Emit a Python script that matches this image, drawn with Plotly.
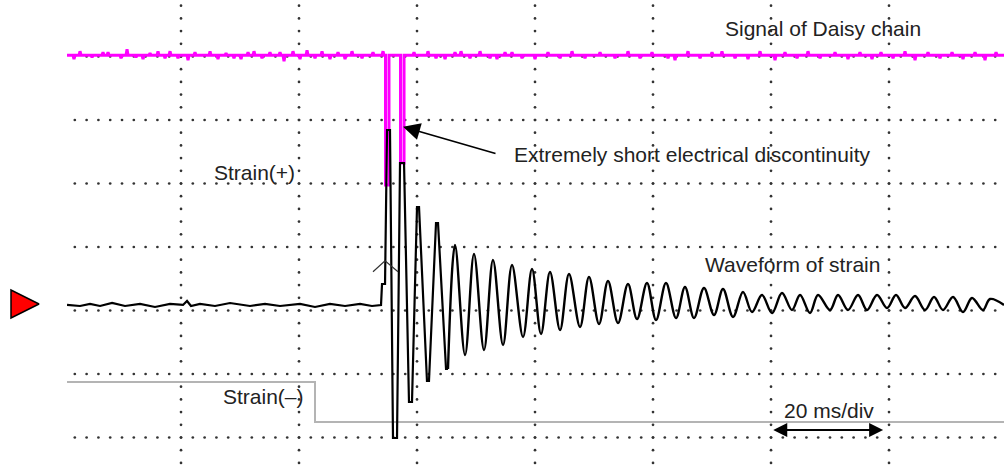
import numpy as np
import plotly.graph_objects as go

# ---------------- data (x in ms, y in divisions) ----------------
# horizontal scale 20 ms/div, grid divisions
grid_x_lines = [20, 40, 60, 80, 100, 120, 140]
grid_y_lines = [-2, -1, 0, 1, 2, 3, 4]

# Strain waveform: pre-trigger baseline
base_t = [0.68, 2.88, 4.58, 6.27, 8.31, 10.51, 13.05, 15.59, 18.14, 20.34, 21.02, 21.69,
          23.22, 25.76, 28.31, 31.69, 34.24, 36.78, 40.17, 42.71, 45.25, 47.80, 50.34,
          52.37, 53.90]
base_v = [0.087, 0.071, 0.103, 0.071, 0.118, 0.071, 0.103, 0.055, 0.103, 0.087, 0.150, 0.071,
          0.103, 0.071, 0.118, 0.071, 0.103, 0.071, 0.103, 0.055, 0.103, 0.071, 0.103,
          0.071, 0.087]
# Strain waveform: first large swings after impact (steep, flat-topped)
burst_t = [54.07, 54.58, 54.92, 55.42, 55.93, 56.61, 57.12, 57.80, 58.64, 59.15, 60.00, 60.34,
           61.69, 62.03, 63.22, 63.56, 64.92, 65.25]
burst_v = [0.417, 0.417, 2.843, 2.843, -2.008, -2.008, 2.323, 2.323, -1.441, -1.441, 1.630, 1.630,
           -1.110, -1.110, 1.378, 1.378, -0.921, -0.921]
# Strain waveform: decaying oscillation (peaks and troughs)
osc_t = [65.25, 66.44, 68.14, 69.66, 71.36, 72.88,
         74.58, 76.10, 77.97, 79.49, 81.02, 82.54, 84.24, 85.76, 87.63, 89.15, 90.85, 92.37,
         94.07, 95.76, 97.29, 98.98, 100.51, 102.20, 103.90, 105.42, 106.95, 108.64, 110.34,
         111.86, 113.56, 115.25, 116.78, 118.47, 120.17, 121.86, 123.56, 124.92, 126.61,
         127.97, 130.00, 131.36, 133.05, 134.75, 136.27, 137.97, 139.66, 141.19, 142.71,
         144.41, 146.10, 147.63, 149.15, 150.85, 152.54, 154.07, 155.93, 157.12, 159.49]
osc_v = [-0.921, 1.031, -0.701, 0.890, -0.622, 0.795,
         -0.543, 0.717, -0.417, 0.654, -0.370, 0.606, -0.307, 0.575, -0.260, 0.528, -0.213, 0.465,
         -0.197, 0.417, -0.134, 0.433, -0.150, 0.433, -0.118, 0.370, -0.118, 0.354, -0.071,
         0.339, -0.102, 0.291, -0.024, 0.244, -0.039, 0.276, 0.008, 0.244, -0.039,
         0.244, 0.008, 0.244, 0.008, 0.244, 0.008, 0.244, 0.039, 0.244, 0.039,
         0.228, 0.008, 0.213, 0.008, 0.213, -0.024, 0.197, 0.008, 0.181, 0.087]

# Strain(-) trace (grey)
neg_t = [0.68, 42.71, 42.71, 159.49]
neg_v = [-1.126, -1.126, -1.756, -1.756]

# Daisy-chain signal (magenta): level, noise spikes, dropouts
daisy_level = 4.02
daisy_start, daisy_end = 0.68, 159.49
spike_t = [1.86, 2.88, 4.92, 6.78, 7.63, 9.83, 10.85, 12.37, 13.56, 14.75, 16.10, 17.29, 18.14,
           19.49, 21.19, 22.37, 24.92, 26.27, 27.63, 28.98, 30.17, 31.36, 32.37, 33.73, 35.08,
           36.78, 37.46, 38.98, 40.17, 41.36, 42.71, 43.90, 45.25, 46.61, 47.80, 48.98, 50.68,
           52.54, 54.24, 59.49, 61.86, 63.22, 64.75, 66.44, 67.46, 68.98, 70.68, 72.37, 73.56,
           74.92, 76.10, 77.80, 80.00, 82.20, 84.24, 86.27, 88.47, 91.02, 93.56, 95.76, 97.80,
           99.83, 102.54, 103.73, 105.93, 107.97, 110.00, 111.69, 113.90, 116.10, 118.14,
           120.68, 122.37, 124.41, 126.27, 128.31, 130.85, 133.05, 135.08, 137.12, 138.64,
           140.68, 142.71, 144.41, 146.61, 148.64, 150.68, 152.54, 154.58, 156.27, 158.14]
spike_dv = [-0.063, 0.063, -0.031, 0.047, 0.047, -0.047, 0.094, -0.031, -0.063, 0.031, 0.063,
            -0.047, 0.063, -0.047, -0.079, 0.047, 0.063, -0.063, 0.031, -0.047, -0.063, 0.047,
            0.063, -0.047, 0.047, 0.047, -0.094, 0.063, -0.063, 0.079, -0.047, 0.063, -0.063,
            0.047, -0.063, 0.063, -0.047, 0.047, 0.063, 0.047, 0.063, -0.047, -0.063, 0.047,
            0.063, -0.047, 0.063, -0.047, -0.063, 0.047, 0.047, -0.047, -0.063, 0.047, -0.047,
            0.063, -0.047, 0.047, -0.047, 0.063, -0.047, 0.047, -0.047, -0.079, 0.063, -0.047,
            0.047, 0.063, -0.047, -0.063, 0.063, -0.079, 0.047, -0.047, 0.063, -0.047, 0.047,
            -0.063, 0.047, -0.063, 0.047, -0.047, 0.063, -0.079, 0.047, -0.047, 0.047, -0.063,
            0.047, -0.079, 0.047]
drop_start = [54.66, 57.20]
drop_end = [55.25, 57.80]
drop_level = [1.976, 2.323]

# small caret mark near the first strain peak
caret_t = [52.54, 54.58, 56.78]
caret_v = [0.611, 0.784, 0.611]

# channel ground marker
marker_t = [-4.07]
marker_v = [0.102]

# ---------------- build traces ----------------
fig = go.Figure()

# grid dots
gx, gy = [], []
for xv in grid_x_lines:
    for yv in np.arange(-2.6, 4.81, 0.2):
        gx.append(xv)
        gy.append(round(yv, 3))
for yv in grid_y_lines:
    for xv in np.arange(2, 160, 2):
        gx.append(xv)
        gy.append(yv)
fig.add_trace(go.Scatter(x=gx, y=gy, mode="markers",
                         marker=dict(size=2.7, color="#333333", line=dict(width=0)),
                         hoverinfo="skip"))

# grey Strain(-)
fig.add_trace(go.Scatter(x=neg_t, y=neg_v, mode="lines",
                         line=dict(color="#b4b4b4", width=2), hoverinfo="skip"))

# magenta daisy-chain signal
events = []
for t, dv in zip(spike_t, spike_dv):
    events.append((t, [(t - 0.17, daisy_level), (t, daisy_level + dv), (t + 0.17, daisy_level)]))
for a, b, lv in zip(drop_start, drop_end, drop_level):
    events.append((a, [(a, daisy_level), (a, lv), (b, lv), (b, daisy_level)]))
events.sort(key=lambda e: e[0])
px_t, px_v = [daisy_start], [daisy_level]
for _, pts in events:
    for t, v in pts:
        px_t.append(t)
        px_v.append(v)
px_t.append(daisy_end)
px_v.append(daisy_level)
fig.add_trace(go.Scatter(x=px_t, y=px_v, mode="lines",
                         line=dict(color="#ff00ff", width=3), hoverinfo="skip"))

# black strain waveform
fig.add_trace(go.Scatter(x=base_t + burst_t, y=base_v + burst_v, mode="lines",
                         line=dict(color="#000000", width=2.2), hoverinfo="skip"))
fig.add_trace(go.Scatter(x=osc_t, y=osc_v, mode="lines",
                         line=dict(color="#000000", width=2.4, shape="spline", smoothing=1.0),
                         hoverinfo="skip"))

# caret
fig.add_trace(go.Scatter(x=caret_t, y=caret_v, mode="lines",
                         line=dict(color="#333333", width=1.2), hoverinfo="skip"))

# red channel marker
fig.add_trace(go.Scatter(x=marker_t, y=marker_v, mode="markers",
                         marker=dict(symbol="arrow-right", size=28, color="#ff0000",
                                     line=dict(color="#000000", width=1.5)),
                         hoverinfo="skip"))

txt = dict(showarrow=False, xref="x", yref="y", xanchor="center", yanchor="middle",
           font=dict(family="Liberation Sans, Arial, sans-serif", size=21, color="#222222"))
annotations = [
    dict(text="Signal of Daisy chain", x=128.73, y=4.449, **txt),
    dict(text="Extremely short electrical discontinuity", x=106.61, y=2.449, **txt),
    dict(text="Strain(+)", x=32.5, y=2.173, **txt),
    dict(text="Waveform of strain", x=123.61, y=0.724, **txt),
    dict(text="Strain(\u2013)", x=33.90, y=-1.354, **txt),
    dict(text="20 ms/div", x=129.83, y=-1.567, **txt),
    # arrow to discontinuity
    dict(text="", x=57.63, y=2.894, ax=73.56, ay=2.465, axref="x", ayref="y",
         xref="x", yref="y", showarrow=True, arrowhead=2, arrowsize=2.0,
         arrowwidth=1.7, arrowcolor="#000000"),
    # 20 ms/div double arrow
    dict(text="", x=139.0, y=-1.882, ax=120.12, ay=-1.882, axref="x", ayref="y",
         xref="x", yref="y", showarrow=True, arrowhead=2, startarrowhead=2,
         arrowside="end+start", arrowsize=1.4, startarrowsize=1.4,
         arrowwidth=2, arrowcolor="#000000"),
]

fig.update_layout(
    width=1004, height=474,
    margin=dict(l=0, r=0, t=0, b=0),
    paper_bgcolor="white", plot_bgcolor="white",
    showlegend=False,
    xaxis=dict(range=[-10.68, 159.49], visible=False, fixedrange=True),
    yaxis=dict(range=[-2.575, 4.89], visible=False, fixedrange=True),
    annotations=annotations,
)

fig.write_html("out.html", config={"displayModeBar": False},
               post_script="document.body.style.margin='0';document.body.style.overflow='hidden';")
